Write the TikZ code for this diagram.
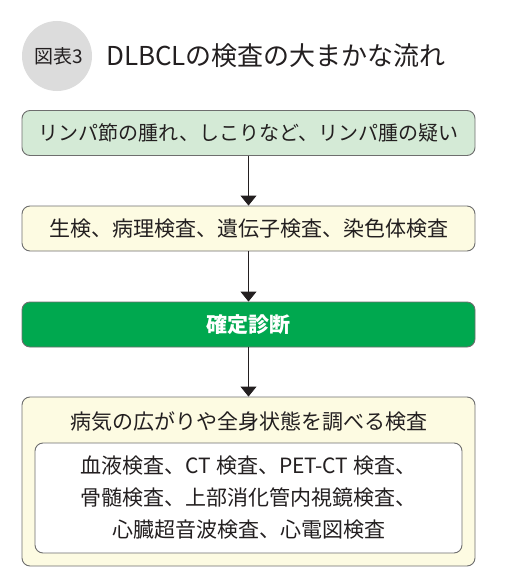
\documentclass[tikz,border=0pt]{standalone}
\usepackage{fontspec}
\setmainfont{Noto Sans CJK JP}
\usetikzlibrary{arrows.meta}
\definecolor{txt}{HTML}{231F20}
\definecolor{bordergray}{HTML}{6E6E6E}
\definecolor{boxgreen}{HTML}{D4EAD6}
\definecolor{boxyellow}{HTML}{FDFBE2}
\definecolor{darkgreen}{HTML}{00A84F}
\definecolor{circgray}{HTML}{DCDCDC}
\tikzset{
  flowbox/.style={draw=bordergray, line width=0.9pt, rounded corners=8pt,
    minimum width=453pt, minimum height=45pt, inner sep=0pt,
    font=\fontsize{20}{24}\selectfont, text=txt},
  flowarrow/.style={draw=txt, line width=0.9pt, -{Triangle[width=16pt,length=10pt]}},
}
\begin{document}
\begin{tikzpicture}[x=1pt,y=-1pt]
\useasboundingbox (0,0) rectangle (508,586);
% title
\node[circle, fill=circgray, minimum size=70pt, inner sep=0pt] (circ) at (57,56) {};
\node[font=\fontsize{19}{22}\selectfont, text=txt, inner sep=0pt] (tlabel) at (58.5,56) {図表3};
\node[font=\fontsize{26}{30}\selectfont, text=txt, anchor=west, inner sep=0pt] (title) at (106,56) {DLBCLの検査の大まかな流れ};
% boxes
\node[flowbox, fill=boxgreen] (b1) at (248.5,133) {リンパ節の腫れ、しこりなど、リンパ腫の疑い};
\node[flowbox, fill=boxyellow, font=\fontsize{21}{24}\selectfont] (b2) at (248.5,228.5) {生検、病理検査、遺伝子検査、染色体検査};
\node[flowbox, fill=darkgreen, text=white, font=\fontsize{21}{24}\selectfont\bfseries] (b3) at (248.5,324.5) {確定診断};
\node[flowbox, fill=boxyellow, minimum height=169pt] (b4) at (248.5,481.5) {};
\node[font=\fontsize{21}{24}\selectfont, text=txt, inner sep=0pt] (b4title) at (248.5,422) {病気の広がりや全身状態を調べる検査};
\node[draw=bordergray, line width=0.9pt, fill=white, rounded corners=8pt,
  minimum width=427pt, minimum height=110pt, inner sep=0pt, align=center,
  font=\fontsize{21}{32}\selectfont, text=txt] (inner) at (248.5,498)
  {血液検査、CT 検査、PET-CT 検査、\\骨髄検査、上部消化管内視鏡検査、\\心臓超音波検査、心電図検査};
% arrows
\draw[flowarrow] (b1.south) -- (b2.north);
\draw[flowarrow] (b2.south) -- (b3.north);
\draw[flowarrow] (b3.south) -- (b4.north);
\end{tikzpicture}
\end{document}
